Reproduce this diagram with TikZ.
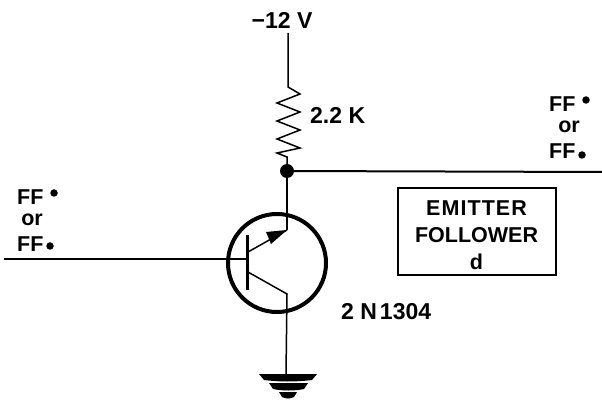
\documentclass[tikz,border=0pt]{standalone}
\usepackage{fontspec}
\setmainfont{Liberation Sans}
\tikzset{
  wire/.style={line width=1.5pt,black},
  heavy/.style={line width=3pt,black},
  lbl/.style={inner sep=0pt,font=\fontsize{23}{23}\selectfont\bfseries},
  fflbl/.style={inner sep=0pt,font=\fontsize{21.5}{21.5}\selectfont\bfseries},
  dotmark/.style={circle,fill=black,inner sep=0pt,minimum size=7.5pt}
}
\begin{document}
\begin{tikzpicture}[x=1pt,y=-1pt]
\useasboundingbox (0,0) rectangle (602,403);
\fill[white] (0,0) rectangle (602,403);
% labels
\node[lbl] (vcc) at (282,20) {−12 V};
\node[lbl,anchor=west] (rlabel) at (310,115) {2.2 K};
\node[lbl,anchor=west] (tlabel) at (341,312) {2 N\hspace{3pt}1304};
% top wire and resistor
\coordinate (top) at (288,33);
\coordinate (rtop) at (288,87);
\coordinate (rbot) at (287,157);
\node[circle,fill=black,inner sep=0pt,minimum size=14pt] (junction) at (287,171) {};
\draw[wire] (top) -- (rtop) -- (300,94) -- (277,103) -- (300,112) -- (277,121) -- (300,130) -- (277,139) -- (300,148) -- (277,153) -- (rbot) -- (junction);
\coordinate (out) at (602,172);
\draw[wire,line width=2pt] (junction) -- (out);
% transistor
\node[circle,draw,line width=4pt,minimum size=98pt,inner sep=0pt] (q) at (277,263) {};
\coordinate (bartop) at (247,235);
\coordinate (barbot) at (247,290);
\draw[heavy] (bartop) -- (barbot);
\coordinate (in) at (4,259);
\draw[wire] (in) -- (247,259);
\coordinate (ebase) at (248,252);
\coordinate (etip) at (287,230);
\draw[wire] (ebase) -- (etip);
\fill (etip) -- (266,232) -- (271,244) -- cycle;
\draw[wire] (junction) -- (etip);
\coordinate (cbase) at (248,272);
\coordinate (cbend) at (287,294);
\coordinate (gnd) at (286,374);
\draw[wire] (cbase) -- (cbend) -- (gnd);
% ground
\fill (259,374) -- (317,374) -- (312,380) .. controls (295,382) and (280,382) .. (264,380) -- cycle;
\fill (269,383) -- (308,383) -- (304,389) .. controls (295,391) and (282,391) .. (273,389) -- cycle;
\fill (279,392) -- (297,392) -- (294,397) .. controls (290,399) and (286,399) .. (282,397) -- cycle;
% box
\node[draw,line width=2pt,minimum width=158pt,minimum height=87pt,inner sep=0pt,
  align=center,font=\fontsize{21.5}{27}\selectfont\bfseries] (box) at (476.5,232)
  {\rule{0pt}{21pt}{\addfontfeature{LetterSpace=5}EMITTER}\\FOLLOWER\\d};
% FF labels left
\node[fflbl,anchor=west] (ffa) at (17,197) {FF};
\node[dotmark] (da) at (54,193) {};
\node[fflbl] (ora) at (32,220) {or};
\node[fflbl,anchor=west] (ffb) at (17,244) {FF};
\node[dotmark] (db) at (50,246) {};
% FF labels right
\node[fflbl,anchor=west] (ffc) at (549,104) {FF};
\node[dotmark] (dc) at (586,100) {};
\node[fflbl] (orc) at (569,127) {or};
\node[fflbl,anchor=west] (ffd) at (549,151) {FF};
\node[dotmark] (dd) at (582,155) {};
\end{tikzpicture}
\end{document}
